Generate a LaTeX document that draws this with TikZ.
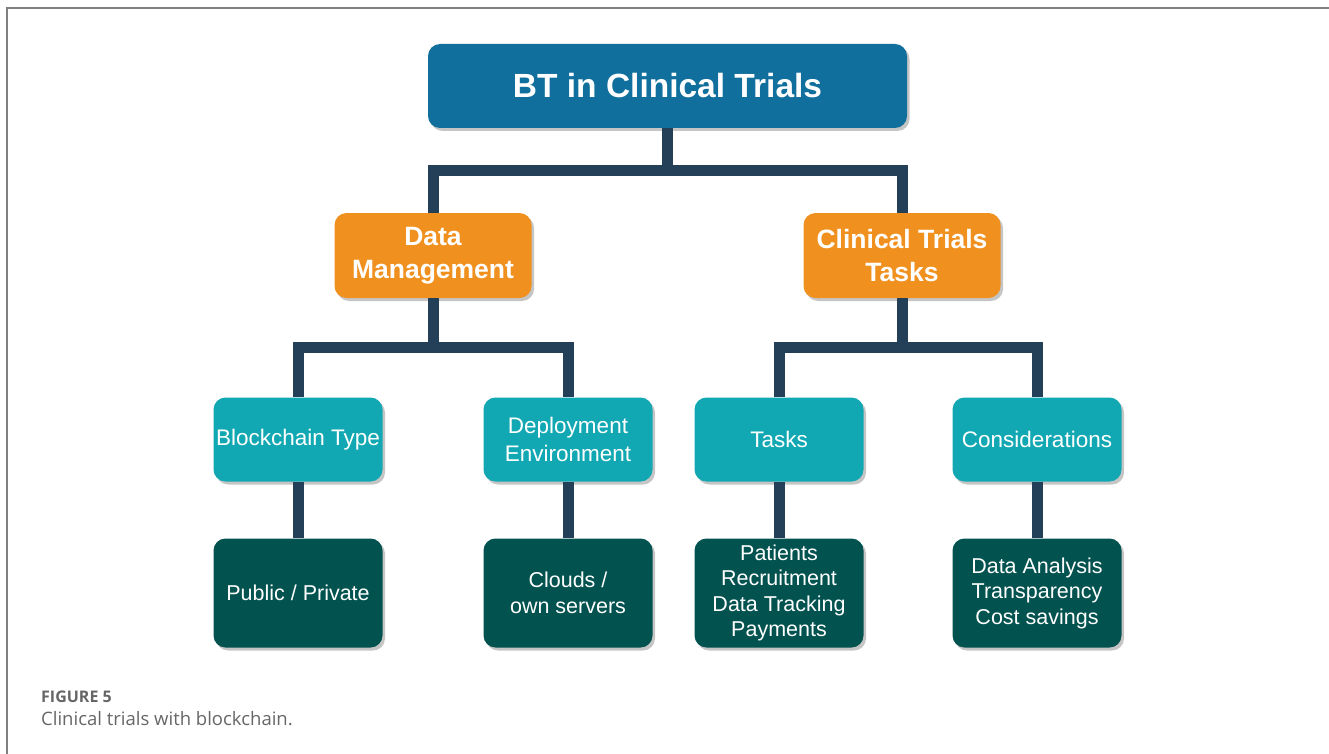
\documentclass[tikz,border=0pt]{standalone}
\usepackage{fontspec}
\setmainfont{Liberation Sans}
\newfontfamily\capfont{Open Sans}
\usetikzlibrary{calc,shadows}
\definecolor{topblue}{HTML}{116F9D}
\definecolor{midorange}{HTML}{F0911F}
\definecolor{boxteal}{HTML}{12A8B3}
\definecolor{leafgreen}{HTML}{02524F}
\definecolor{linknavy}{HTML}{243F58}
\definecolor{capgray}{HTML}{666666}
\begin{document}
\begin{tikzpicture}[x=1pt, y=1pt,
      box/.style = {shape=rectangle, rounded corners=12pt,
        align=center, text=white, inner sep=0pt,
        drop shadow={shadow xshift=2.5pt, shadow yshift=-3pt,
          fill=black!45, opacity=.5}},
      topbox/.style = {box, fill=topblue, minimum width=479pt, minimum height=84pt,
        font=\bfseries\fontsize{33.5}{40}\selectfont},
      midbox/.style = {box, fill=midorange, minimum width=197pt, minimum height=85pt,
        font=\bfseries\fontsize{26.5}{33}\selectfont},
      subbox/.style = {box, fill=boxteal, minimum width=169pt, minimum height=84pt,
        font=\fontsize{22.5}{28}\selectfont},
      leafbox/.style = {box, fill=leafgreen, minimum width=169pt, minimum height=109pt,
        font=\fontsize{21.5}{25.5}\selectfont},
      edge from parent/.style = {draw=linknavy, line width=11pt},
      edge from parent path = {(\tikzparentnode.south)
        |- ($(\tikzparentnode.south)!.5!(\tikzchildnode.north)$)
        -| (\tikzchildnode.north)},
      level 1/.style = {sibling distance=469pt, level distance=169.5pt},
      level 2/.style = {sibling distance=270pt, level distance=184pt},
      level 3/.style = {level distance=153.5pt}]
  \useasboundingbox (0,0) rectangle (1329,-754);
  \draw[gray, line width=1.3pt] (1329,-8) -| (7,-754);

  \node[topbox] (bt) at (667.5,-86) {BT in Clinical Trials}
    child { node[midbox] (dm) {Data\\Management}
      child { node[subbox] (bctype) {Blockchain Type}
        child { node[leafbox] (pubpriv) {Public / Private} } }
      child { node[subbox] (deploy) {Deployment\\Environment}
        child { node[leafbox] (clouds) {Clouds /\\own servers} } } }
    child { node[midbox] (ctt) {Clinical Trials\\Tasks}
      child[xshift=12pt] { node[subbox] (tasks) {Tasks}
        child { node[leafbox] (tasklist) {Patients\\Recruitment\\Data Tracking\\Payments} } }
      child { node[subbox] (consid) {Considerations}
        child { node[leafbox] (considlist) {Data Analysis\\Transparency\\Cost savings} } } };

  % caption
  \node[anchor=base west, inner sep=0pt, text=capgray,
    font=\capfont\bfseries\fontsize{16}{19}\selectfont] (figno) at (41,-702) {FIGURE 5};
  \node[anchor=base west, inner sep=0pt, text=capgray,
    font=\capfont\fontsize{18.5}{22}\selectfont] (figcap) at (41,-725) {Clinical trials with blockchain.};
\end{tikzpicture}
\end{document}
